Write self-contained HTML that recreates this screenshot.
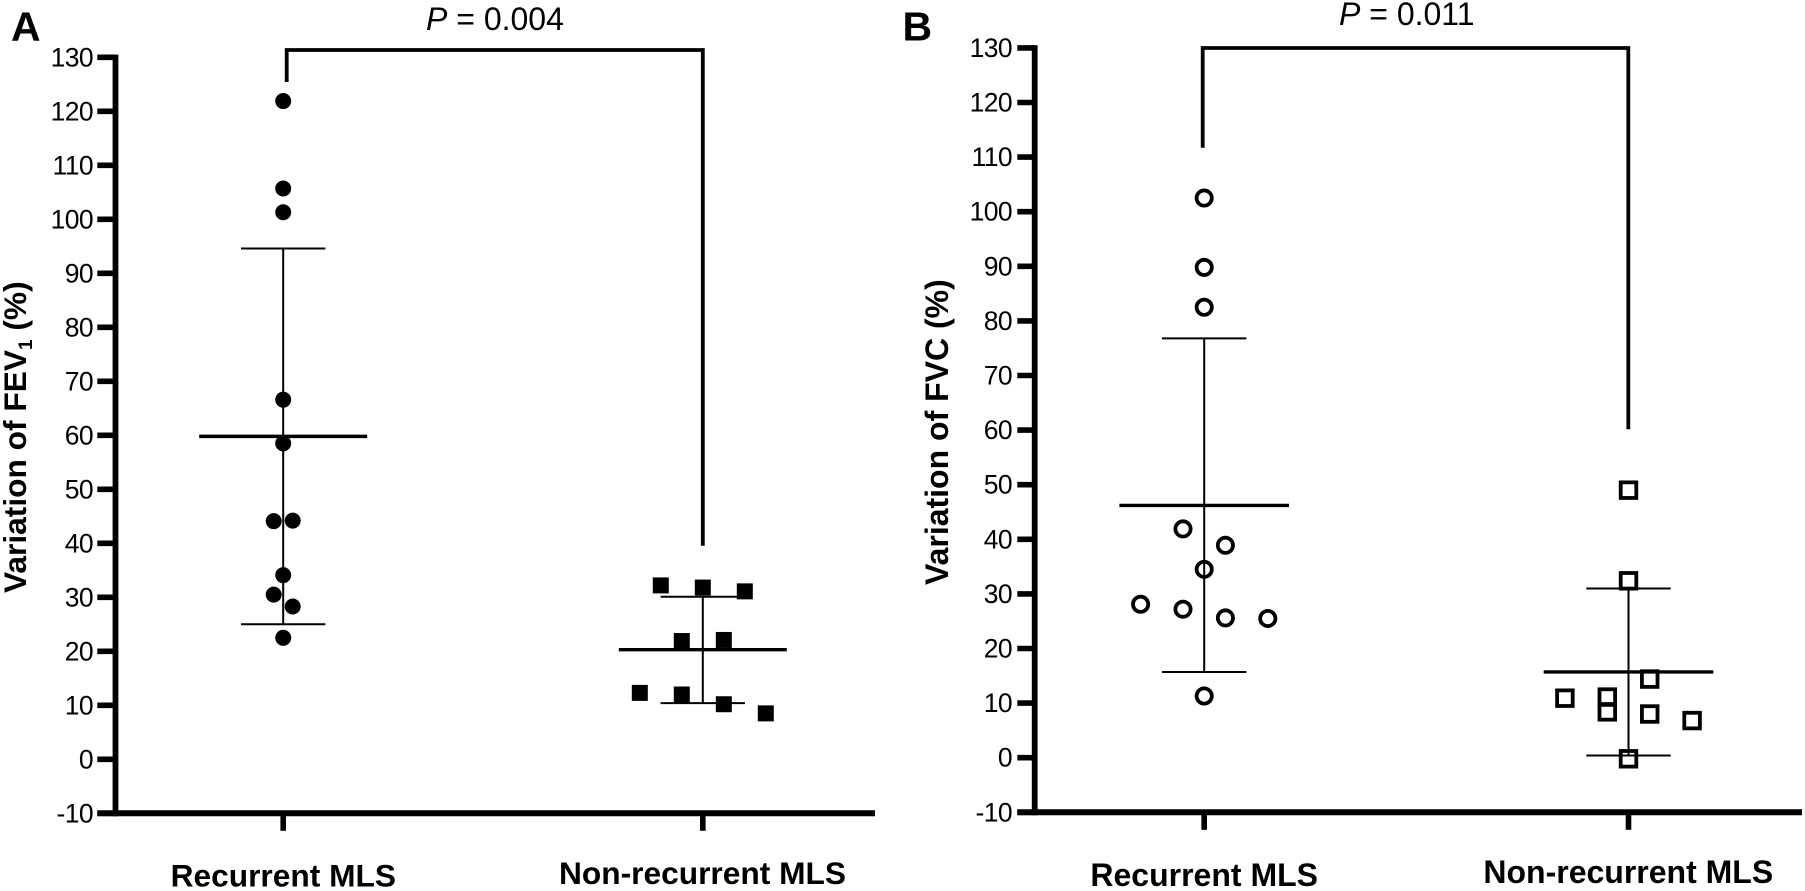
<!DOCTYPE html>
<html lang="en">
<head>
<meta charset="utf-8">
<title>Variation of FEV1 and FVC in recurrent and non-recurrent MLS</title>
<style>
html,body{margin:0;padding:0;background:#fff;}
svg{display:block;}
text{font-family:"Liberation Sans",Arial,sans-serif;fill:#000;}
.tick-label{font-size:26.5px;letter-spacing:-0.6px;text-anchor:end;}
.cat-label{font-size:31.7px;font-weight:bold;text-anchor:middle;}
.y-title{font-size:32px;font-weight:bold;}
.panel-letter{font-size:41px;font-weight:bold;}
.p-value{font-size:32px;}
</style>
</head>
<body>
<svg id="figure" xmlns="http://www.w3.org/2000/svg" width="1805" height="891" viewBox="0 0 1805 891">
  <rect x="0" y="0" width="1805" height="891" fill="#fff"/>

  <text class="panel-letter" x="11" y="40.7">A</text>
  <text class="panel-letter" x="902.5" y="40.7">B</text>

  <text class="p-value" x="426" y="30"><tspan font-style="italic">P</tspan> = 0.004</text>
  <text class="p-value" x="1339" y="25"><tspan font-style="italic">P</tspan> = 0.011</text>

  <text class="y-title" transform="translate(26 593) rotate(-90)" style="font-size:31.7px">Variation of FEV<tspan font-size="19" dy="6">1</tspan><tspan dy="-6"> (%)</tspan></text>
  <text class="y-title" transform="translate(948 585) rotate(-90)">Variation of FVC (%)</text>

  <text class="cat-label" x="283.3" y="886.5">Recurrent MLS</text>
  <text class="cat-label" x="702.5" y="884">Non-recurrent MLS</text>
  <text class="cat-label" x="1204.2" y="886" style="font-size:32px">Recurrent MLS</text>
  <text class="cat-label" x="1628.3" y="883" style="font-size:32px">Non-recurrent MLS</text>

  <g id="marks"></g>
</svg>

<script>
// Shared axis ticks
var tickLabels = [-10, 0, 10, 20, 30, 40, 50, 60, 70, 80, 90, 100, 110, 120, 130];

// Panel A: FEV1, recurrent MLS
var aRecurrentValues = [121.9, 105.7, 101.3, 66.6, 58.5, 44.1, 44.2, 34.1, 30.5, 28.3, 22.5];
var aRecurrentSlots  = [0, 0, 0, 0, 0, -1, 1, 0, -1, 1, 0];
var aRecurrentStats  = [94.6, 59.8, 25.0]; // upper, mean, lower

// Panel A: FEV1, non-recurrent MLS
var aNonRecurrentValues = [32.2, 31.8, 31.1, 21.9, 22.1, 12.3, 12.0, 10.2, 8.5];
var aNonRecurrentSlots  = [-2, 0, 2, -1, 1, -3, -1, 1, 3];
var aNonRecurrentStats  = [30.1, 20.3, 10.4];

// Panel B: FVC, recurrent MLS
var bRecurrentValues = [102.5, 89.8, 82.5, 41.9, 38.9, 34.5, 28.1, 27.2, 25.6, 25.5, 11.3];
var bRecurrentSlots  = [0, 0, 0, -1, 1, 0, -3, -1, 1, 3, 0];
var bRecurrentStats  = [76.8, 46.2, 15.7];

// Panel B: FVC, non-recurrent MLS
var bNonRecurrentValues = [49.0, 32.4, 14.4, 10.9, 11.1, 8.4, 8.0, 6.8, -0.2];
var bNonRecurrentSlots  = [0, 0, 1, -3, -1, -1, 1, 3, 0];
var bNonRecurrentStats  = [31.0, 15.7, 0.4];

var NS = 'http://www.w3.org/2000/svg';
var root = document.getElementById('marks');

function node(tag, attrs, parent) {
  var el = document.createElementNS(NS, tag);
  for (var k in attrs) { el.setAttribute(k, attrs[k]); }
  (parent || root).appendChild(el);
  return el;
}

function drawLine(x1, y1, x2, y2, width, name, parent) {
  var el = node('line', {x1: x1, y1: y1, x2: x2, y2: y2, stroke: '#000', 'stroke-width': width}, parent);
  
  
  return el;
}

function drawAxes(p) {
  var g = node('g', {});
  
  
  drawLine(p.axisX, p.y(130) - 2.7, p.axisX, p.y(-10) + 3, 5.8, p.id + '-y-axis', g);
  drawLine(p.tickLeft, p.y(-10), p.axisRight, p.y(-10), 6, p.id + '-x-axis', g);
  tickLabels.forEach(function (t) {
    drawLine(p.tickLeft, p.y(t), p.axisX, p.y(t), 5.6, p.id + '-y-tick-' + t, g);
    var label = node('text', {x: p.labelRight, y: p.y(t) + 9, 'class': 'tick-label'}, g);
    
    
    label.textContent = String(t);
  });
  [p.cx1, p.cx2].forEach(function (cx, i) {
    drawLine(cx, p.y(-10), cx, p.y(-10) + 17.5, 5.6, p.id + '-x-tick-' + (i + 1), g);
  });
}

function drawBracket(p) {
  var b = p.bracket;
  var el = node('path', {
    d: 'M' + b.x1 + ' ' + b.y1 + 'V' + b.top + 'H' + b.x2 + 'V' + b.y2,
    fill: 'none', stroke: '#000', 'stroke-width': 3.8, 'stroke-linejoin': 'miter'
  });
  
  
}

function drawStats(p, cx, stats, group) {
  var g = node('g', {});
  
  
  drawLine(cx, p.y(stats[0]), cx, p.y(stats[2]), 2, p.id + '-' + group + '-error-bar', g);
  drawLine(cx - 42.2, p.y(stats[0]), cx + 42.2, p.y(stats[0]), 2, p.id + '-' + group + '-upper-cap', g);
  drawLine(cx - 42.2, p.y(stats[2]), cx + 42.2, p.y(stats[2]), 2, p.id + '-' + group + '-lower-cap', g);
  drawLine(cx - p.meanHalf, p.y(stats[1]), cx + p.meanHalf, p.y(stats[1]), 3.4, p.id + '-' + group + '-mean-line', g);
}

function drawPoints(p, cx, values, slots, unit, shape, group) {
  var g = node('g', {});
  
  
  values.forEach(function (v, i) {
    var x = cx + slots[i] * unit;
    var y = p.y(v);
    var el;
    if (shape === 'filled-circle') {
      el = node('circle', {cx: x, cy: y, r: 8, fill: '#000'}, g);
    } else if (shape === 'filled-square') {
      el = node('rect', {x: x - 8, y: y - 8, width: 16, height: 16, fill: '#000'}, g);
    } else if (shape === 'open-circle') {
      el = node('circle', {cx: x, cy: y, r: 7.6, fill: 'none', stroke: '#000', 'stroke-width': 3.8}, g);
    } else {
      el = node('rect', {x: x - 7.8, y: y - 7.8, width: 15.6, height: 15.6, fill: 'none', stroke: '#000', 'stroke-width': 3.8}, g);
    }
    
    
  });
}

var panelA = {
  id: 'panel-a', axisX: 115.5, tickLeft: 97.3, axisRight: 875, labelRight: 93,
  cx1: 283.2, cx2: 702.8, meanHalf: 84,
  y: function (v) { return 759.3 - 5.4 * v; },
  bracket: {x1: 286.7, y1: 82, x2: 702.8, y2: 545.7, top: 50}
};
var panelB = {
  id: 'panel-b', axisX: 1034.7, tickLeft: 1017.3, axisRight: 1802, labelRight: 1012,
  cx1: 1204.2, cx2: 1628.5, meanHalf: 84.8,
  y: function (v) { return 757.7 - 5.46 * v; },
  bracket: {x1: 1202.7, y1: 147.7, x2: 1628.3, y2: 429.3, top: 48}
};

drawAxes(panelA);
drawBracket(panelA);
drawStats(panelA, panelA.cx1, aRecurrentStats, 'recurrent');
drawPoints(panelA, panelA.cx1, aRecurrentValues, aRecurrentSlots, 9.5, 'filled-circle', 'recurrent');
drawStats(panelA, panelA.cx2, aNonRecurrentStats, 'non-recurrent');
drawPoints(panelA, panelA.cx2, aNonRecurrentValues, aNonRecurrentSlots, 21, 'filled-square', 'non-recurrent');

drawAxes(panelB);
drawBracket(panelB);
drawStats(panelB, panelB.cx1, bRecurrentStats, 'recurrent');
drawPoints(panelB, panelB.cx1, bRecurrentValues, bRecurrentSlots, 21.2, 'open-circle', 'recurrent');
drawStats(panelB, panelB.cx2, bNonRecurrentStats, 'non-recurrent');
drawPoints(panelB, panelB.cx2, bNonRecurrentValues, bNonRecurrentSlots, 21.2, 'open-square', 'non-recurrent');
</script>
</body>
</html>
